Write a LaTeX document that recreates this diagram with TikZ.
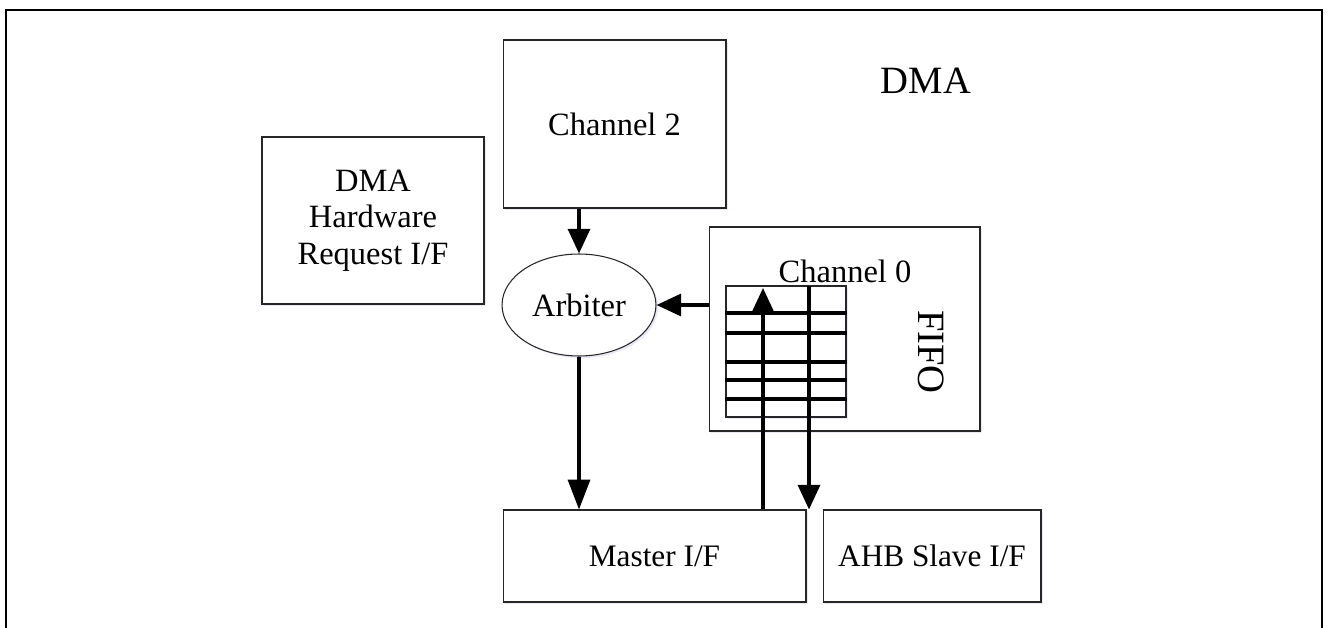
\documentclass[tikz,border=0pt]{standalone}
\usepackage{fontspec}
\setmainfont{Liberation Serif}
\usepackage{tikz}
\usetikzlibrary{arrows.meta,shapes.geometric,shadows}

\tikzset{
  box/.style={draw=black!85, line width=0.6pt, fill=white, inner sep=0pt,
    drop shadow={shadow xshift=1.2pt, shadow yshift=-1.2pt, opacity=0.12, fill=blue!40!gray}},
  lbl/.style={font=\fontsize{18.5}{20.7}\selectfont, align=center},
  biglbl/.style={font=\fontsize{22}{24}\selectfont},
  arr/.style={line width=1.9pt, -{Triangle[length=14pt,width=12.5pt]}},
  fifoline/.style={line width=1.9pt},
}

\begin{document}
\begin{tikzpicture}[x=0.02cm, y=-0.02cm]
\useasboundingbox (0,0) rectangle (1328,628);
% frame of the DMA block, open at the bottom
\draw[line width=1.1pt] (6,628) -- (6,10) -- (1322,10) -- (1322,628);
\node[biglbl] (dmatitle) at (926,81) {DMA};

% blocks
\node[box, lbl, minimum width=4.46cm, minimum height=3.36cm] (ch2) at (614.5,124) {Channel 2};
\node[box, lbl, minimum width=4.44cm, minimum height=3.34cm] (hwreq) at (373,220.5) {DMA\\Hardware\\Request I/F};
\node[box, lbl, ellipse, minimum width=3.08cm, minimum height=2.04cm] (arb) at (579,305) {Arbiter};
\node[box, minimum width=5.42cm, minimum height=4.08cm] (ch0) at (844.5,329) {};
\node[lbl] (ch0label) at (845,271) {Channel 0};
\node[biglbl, rotate=-90] (fifolabel) at (931,352) {FIFO};
\node[box, lbl, font=\fontsize{17.8}{20}\selectfont, minimum width=6.06cm, minimum height=1.84cm] (mst) at (654.5,556) {Master I/F};
\node[box, lbl, font=\fontsize{17.8}{20}\selectfont, minimum width=4.36cm, minimum height=1.84cm] (slv) at (932,556) {AHB Slave I/F};

% FIFO entries
\node[box, minimum width=2.4cm, minimum height=2.62cm] (fifo) at (786,351.5) {};
\foreach \y in {313,333,362,380,399}
  \draw[fifoline] (fifo.west |- 0,\y) -- (fifo.east |- 0,\y);

% data paths through the FIFO
\coordinate (fifoin) at (763,288);
\coordinate (fifoout) at (809,286);
\draw[arr] (fifoin |- mst.north) -- (fifoin);
\draw[arr] (fifoout) -- (fifoout |- mst.north);

% requests to the arbiter
\draw[arr] (arb.north |- ch2.south) -- (arb.north);
\draw[arr] (ch0.west |- arb.east) -- (arb.east);
\draw[arr, -{Triangle[length=17pt,width=12.5pt]}] (arb.south) -- (arb.south |- mst.north);
\end{tikzpicture}
\end{document}
